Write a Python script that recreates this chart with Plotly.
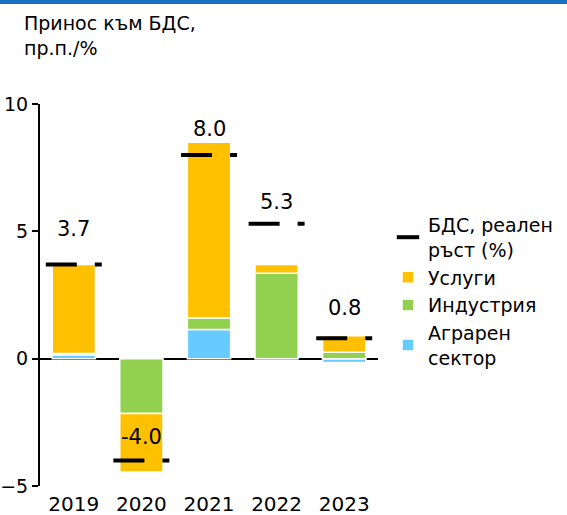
import plotly.graph_objects as go

years = ["2019", "2020", "2021", "2022", "2023"]
agri = [0.15, 0.0, 1.15, 0.0, -0.15]
industry = [0.05, -2.15, 0.45, 3.35, 0.25]
services = [3.5, -2.3, 6.9, 0.35, 0.65]
gdp = [3.7, -4.0, 8.0, 5.3, 0.8]
gdp_labels = ["3.7", "-4.0", "8.0", "5.3", "0.8"]
y_ticks = [-5, 0, 5, 10]

names = {
    "gdp": "БДС, реален<br>ръст (%)",
    "services": "Услуги",
    "industry": "Индустрия",
    "agri": "Аграрен<br>сектор",
}
colors = {"services": "#FFC000", "industry": "#92D050", "agri": "#66CCFF"}

W, H = 567, 515
L, R, T, B = 40, 189, 104, 29
PW = W - L - R
PH = H - T - B
FONT = "DejaVu Sans"

x = list(range(len(years)))
bar_w = 0.64
half = 0.414

fig = go.Figure()
for key, vals, rank in [("agri", agri, 4), ("industry", industry, 3), ("services", services, 2)]:
    fig.add_trace(go.Bar(
        x=x, y=vals, name=names[key], width=bar_w,
        marker=dict(color=colors[key], line=dict(color="white", width=1.5)),
        legendrank=rank,
    ))

gx, gy = [], []
for i, g in zip(x, gdp):
    gx += [i - half, i + half, None]
    gy += [g, g, None]
fig.add_trace(go.Scatter(
    x=gx, y=gy, mode="lines", showlegend=False,
    line=dict(color="black", width=4, dash="31px,18px,7px"),
))
fig.add_trace(go.Scatter(
    x=[None], y=[None], mode="markers", name=names["gdp"], legendrank=1,
    marker=dict(symbol="line-ew", size=17, line=dict(color="black", width=4)),
))

shifts = [35, 24, 26, 22, 30]
for i, g, lab, s in zip(x, gdp, gdp_labels, shifts):
    fig.add_annotation(x=i, y=g, text=lab, showarrow=False, yshift=s,
                       font=dict(size=21, color="black", family=FONT))

fig.add_annotation(
    xref="paper", yref="paper", x=(22 - L) / PW, y=(PH + T - 10) / PH,
    xanchor="left", yanchor="top", align="left", showarrow=False,
    text="Принос към БДС,<br>пр.п./%", font=dict(size=19, color="black", family=FONT),
)

fig.add_shape(type="rect", xref="paper", yref="paper", layer="above",
              x0=-L / PW, x1=(W - L) / PW,
              y0=(PH + T - 4) / PH, y1=(PH + T) / PH,
              fillcolor="#1b6fc2", line=dict(width=0))

fig.update_layout(
    width=W, height=H,
    margin=dict(l=L, r=R, t=T, b=B, autoexpand=False),
    barmode="relative",
    plot_bgcolor="white", paper_bgcolor="white",
    font=dict(family=FONT, size=19, color="black"),
    showlegend=True,
    legend=dict(x=(388 - L) / PW, y=(PH + T - 206) / PH, xanchor="left", yanchor="top",
                font=dict(size=19, family=FONT), tracegroupgap=0,
                bgcolor="rgba(0,0,0,0)"),
    xaxis=dict(range=[-0.5, len(years) - 0.5], tickvals=x, ticktext=years,
               showline=False, ticks="", showgrid=False, zeroline=False,
               tickfont=dict(size=20), ticklabelstandoff=4),
    yaxis=dict(range=[-5, 10], tickvals=y_ticks, showline=True, linecolor="black",
               linewidth=2, ticks="outside", ticklen=6, tickwidth=2, tickcolor="black",
               showgrid=False, zeroline=True, zerolinecolor="black", zerolinewidth=2,
               tickfont=dict(size=19)),
)

fig.write_html("out.html", config={"displayModeBar": False},
               post_script="document.body.style.margin='0';document.body.style.overflow='hidden';")
